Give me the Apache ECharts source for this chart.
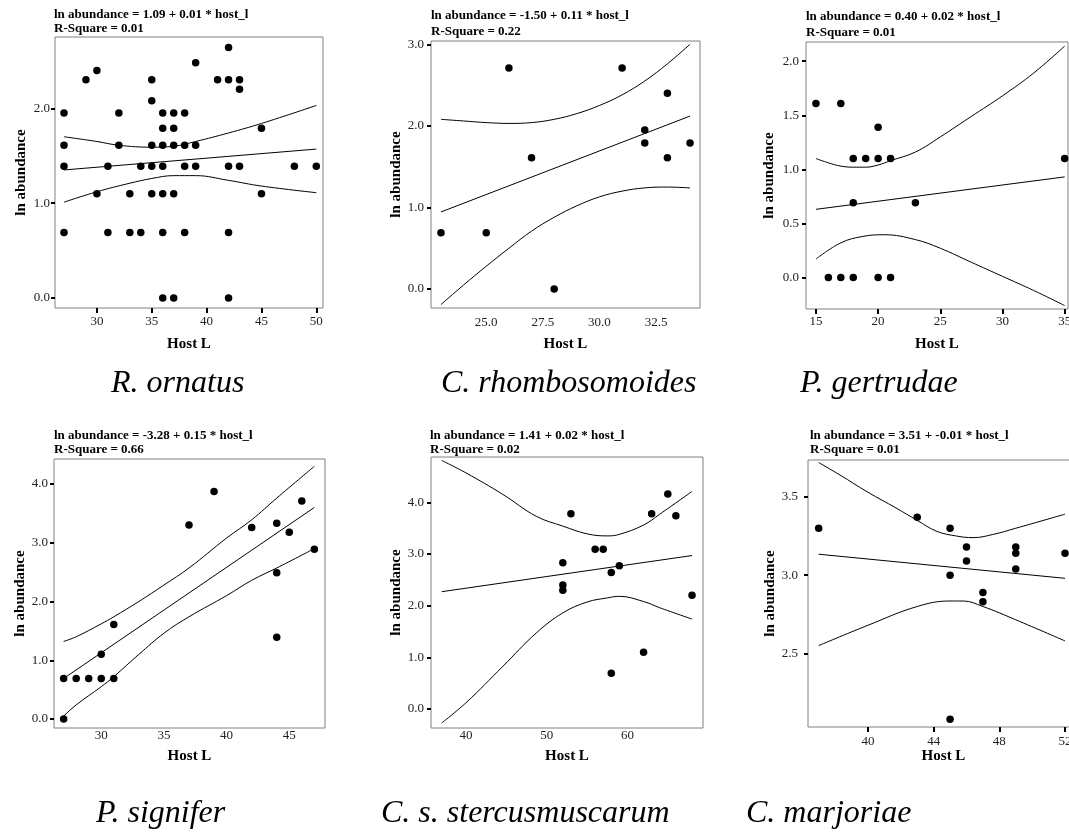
<!DOCTYPE html>
<html>
<head>
<meta charset="utf-8">
<script src="https://cdn.jsdelivr.net/npm/echarts@6/dist/echarts.min.js"></script>
<style>
html, body { margin: 0; background: #fff; }
#chart { width: 1069px; height: 832px; }
</style>
</head>
<body>
<div id="chart"></div>
<script>
// species names (panel captions)
const speciesNames = ['R. ornatus', 'C. rhombosomoides', 'P. gertrudae',
                      'P. signifer', 'C. s. stercusmuscarum', 'C. marjoriae'];
const equations = [
  'ln abundance = 1.09 + 0.01 * host_l\nR-Square = 0.01',
  'ln abundance = -1.50 + 0.11 * host_l\nR-Square = 0.22',
  'ln abundance = 0.40 + 0.02 * host_l\nR-Square = 0.01',
  'ln abundance = -3.28 + 0.15 * host_l\nR-Square = 0.66',
  'ln abundance = 1.41 + 0.02 * host_l\nR-Square = 0.02',
  'ln abundance = 3.51 + -0.01 * host_l\nR-Square = 0.01'
];

// R. ornatus
const ornatusHost = [27,27,27,27,29,30,30,31,31,32,32,33,33,34,34,35,35,35,35,35,36,36,36,36,36,36,36,37,37,37,37,37,38,38,38,38,39,39,39,41,42,42,42,42,42,43,43,43,45,45,48,50];
const ornatusAbund = [1.95,1.61,1.39,0.69,2.30,2.40,1.10,1.39,0.69,1.95,1.61,1.10,0.69,1.39,0.69,2.30,2.08,1.61,1.39,1.10,1.95,1.79,1.61,1.39,1.10,0.69,0,1.95,1.79,1.61,1.10,0,1.95,1.61,1.39,0.69,2.48,1.61,1.39,2.30,2.64,2.30,1.39,0.69,0,2.30,2.20,1.39,1.79,1.10,1.39,1.39];
const ornatusFit = [[27,1.35],[50,1.57]];
const ornatusUpper = [[27,1.70],[30,1.65],[32,1.61],[35,1.59],[37,1.60],[39,1.65],[42,1.74],[45,1.84],[50,2.03]];
const ornatusLower = [[27,1.01],[30,1.12],[33,1.21],[35,1.26],[37,1.29],[39,1.29],[42,1.24],[45,1.18],[50,1.11]];

// C. rhombosomoides
const rhomboHost = [23,25,26,27,28,31,32,32,33,33,34];
const rhomboAbund = [0.69,0.69,2.71,1.61,0,2.71,1.95,1.79,2.40,1.61,1.79];
const rhomboFit = [[23,0.945],[34,2.12]];
const rhomboUpper = [[23,2.08],[24,2.06],[25,2.04],[26,2.03],[27,2.04],[28,2.08],[29,2.15],[30,2.25],[31,2.38],[32,2.55],[33,2.76],[34,3.0]];
const rhomboLower = [[23,-0.19],[24,0.05],[25,0.28],[26,0.5],[27,0.71],[28,0.88],[29,1.02],[30,1.13],[31,1.2],[32,1.24],[33,1.25],[34,1.24]];

// P. gertrudae
const gertrudaeHost = [15,17,20,18,19,20,21,18,23,35,16,17,18,20,21];
const gertrudaeAbund = [1.61,1.61,1.39,1.10,1.10,1.10,1.10,0.69,0.69,1.10,0,0,0,0,0];
const gertrudaeFit = [[15,0.63],[35,0.93]];
const gertrudaeUpper = [[15,1.10],[16,1.06],[17,1.03],[18,1.02],[19,1.02],[20,1.04],[21,1.08],[23,1.16],[25,1.30],[27.5,1.49],[30,1.68],[32.5,1.89],[35,2.14]];
const gertrudaeLower = [[15,0.17],[17,0.32],[18.8,0.38],[20.5,0.395],[23,0.35],[25,0.27],[27.5,0.14],[30,0.01],[32.5,-0.12],[35,-0.26]];

// P. signifer
const signiferHost = [27,27,28,29,30,30,31,31,37,39,42,44,44,44,45,46,47];
const signiferAbund = [0.69,0,0.69,0.69,1.10,0.69,1.61,0.69,3.30,3.87,3.26,3.33,2.49,1.39,3.18,3.71,2.89];
const signiferFit = [[27,0.69],[47,3.60]];
const signiferUpper = [[27,1.32],[28,1.40],[30,1.62],[31,1.74],[33,2.0],[35,2.28],[37,2.57],[40,3.08],[42,3.39],[44,3.76],[47,4.30]];
const signiferLower = [[27,0.05],[28,0.24],[30,0.55],[31,0.72],[33,1.1],[35,1.46],[37,1.74],[40,2.1],[42,2.36],[44,2.57],[47,2.9]];

// C. s. stercusmuscarum
const stercusHost = [52,52,52,53,56,57,58,58,59,62,63,65,66,68];
const stercusAbund = [2.83,2.40,2.30,3.78,3.09,3.09,2.64,0.69,2.77,1.10,3.78,4.16,3.74,2.20];
const stercusFit = [[37,2.27],[68,2.97]];
const stercusUpper = [[37,4.81],[40,4.57],[44.6,4.15],[48.7,3.73],[52,3.54],[55,3.39],[57.5,3.35],[59,3.38],[62,3.56],[64,3.77],[68,4.21]];
const stercusLower = [[37,-0.27],[40,0.12],[44.6,0.83],[48.7,1.47],[52,1.86],[55,2.07],[57.5,2.15],[59,2.18],[62,2.08],[64,1.96],[68,1.74]];

// C. marjoriae
const marjoriaeHost = [37,43,45,45,45,46,46,47,47,49,49,49,52];
const marjoriaeAbund = [3.30,3.37,3.30,3.00,2.08,3.18,3.09,2.89,2.83,3.18,3.14,3.04,3.14];
const marjoriaeFit = [[37,3.134],[52,2.98]];
const marjoriaeUpper = [[37,3.72],[38.3,3.64],[40,3.53],[41.7,3.43],[43,3.35],[44.2,3.28],[45.4,3.25],[46.4,3.24],[47.6,3.26],[49,3.30],[52,3.39]];
const marjoriaeLower = [[37,2.55],[40,2.68],[43,2.80],[45,2.835],[45.8,2.835],[47,2.80],[49,2.715],[52,2.58]];

// tick values
const ornatusXTicks = [30,35,40,45,50],    ornatusYTicks = [0,1,2];
const rhomboXTicks = [25,27.5,30,32.5],    rhomboYTicks = [0,1,2,3];
const gertrudaeXTicks = [15,20,25,30,35],  gertrudaeYTicks = [0,0.5,1,1.5,2];
const signiferXTicks = [30,35,40,45],      signiferYTicks = [0,1,2,3,4];
const stercusXTicks = [40,50,60],          stercusYTicks = [0,1,2,3,4];
const marjoriaeXTicks = [40,44,48,52],     marjoriaeYTicks = [2.5,3,3.5];

const panels = [
  {host: ornatusHost, abund: ornatusAbund, fit: ornatusFit, up: ornatusUpper, lo: ornatusLower, xt: ornatusXTicks, yt: ornatusYTicks},
  {host: rhomboHost, abund: rhomboAbund, fit: rhomboFit, up: rhomboUpper, lo: rhomboLower, xt: rhomboXTicks, yt: rhomboYTicks},
  {host: gertrudaeHost, abund: gertrudaeAbund, fit: gertrudaeFit, up: gertrudaeUpper, lo: gertrudaeLower, xt: gertrudaeXTicks, yt: gertrudaeYTicks},
  {host: signiferHost, abund: signiferAbund, fit: signiferFit, up: signiferUpper, lo: signiferLower, xt: signiferXTicks, yt: signiferYTicks},
  {host: stercusHost, abund: stercusAbund, fit: stercusFit, up: stercusUpper, lo: stercusLower, xt: stercusXTicks, yt: stercusYTicks},
  {host: marjoriaeHost, abund: marjoriaeAbund, fit: marjoriaeFit, up: marjoriaeUpper, lo: marjoriaeLower, xt: marjoriaeXTicks, yt: marjoriaeYTicks}
];

// layout of each panel (pixels) and visible axis ranges
const layout = [
  {grid: {left: 55, top: 37, width: 268, height: 271}, x: [26.18, 50.61], y: [-0.106, 2.752], xTick: true, xFix: 0, xMargin: 7, yMargin: 5, yGap: 26, xGap: 29, title: [54, 7, 14.3], caption: [111, 368]},
  {grid: {left: 431, top: 41, width: 269, height: 267}, x: [22.56, 34.44], y: [-0.232, 3.04], xTick: false, xFix: 1, xMargin: 8, yMargin: 7, yGap: 22, xGap: 29, title: [431, 7, 16.5], caption: [441, 368]},
  {grid: {left: 806, top: 42, width: 262, height: 267}, x: [14.2, 35.27], y: [-0.292, 2.178], xTick: true, xFix: 0, xMargin: 6, yMargin: 7, yGap: 29, xGap: 28, title: [806, 8, 16.5], caption: [800, 368]},
  {grid: {left: 54, top: 459, width: 271, height: 269}, x: [26.23, 47.85], y: [-0.153, 4.425], xTick: false, xFix: 0, xMargin: 1, yMargin: 6, yGap: 24, xGap: 21, title: [54, 428, 14.3], caption: [96, 798]},
  {grid: {left: 431, top: 457, width: 272, height: 271}, x: [35.67, 69.36], y: [-0.368, 4.877], xTick: false, xFix: 0, xMargin: 1, yMargin: 7, yGap: 22, xGap: 21, title: [430, 428, 14.3], caption: [381, 798]},
  {grid: {left: 808, top: 460, width: 271, height: 267}, x: [36.35, 52.85], y: [2.03, 3.736], xTick: true, xFix: 0, xMargin: 8, yMargin: 10, yGap: 27, xGap: 22, title: [810, 428, 14.3], caption: [746, 798]}
];

const serif = 'Liberation Serif, Times New Roman, serif';
const grids = [], xAxes = [], yAxes = [], series = [], titles = [];

panels.forEach((p, i) => {
  const L = layout[i];
  grids.push(Object.assign({show: true, borderColor: '#808080', borderWidth: 1,
    backgroundColor: 'transparent', containLabel: false, outerBoundsMode: 'none'}, L.grid));
  xAxes.push({
    gridIndex: i, type: 'value', min: L.x[0], max: L.x[1],
    axisLine: {show: false, onZero: false}, splitLine: {show: false},
    axisTick: {show: L.xTick, customValues: p.xt, length: 5, lineStyle: {color: '#000', width: 2}},
    axisLabel: {customValues: p.xt, margin: L.xMargin, fontFamily: serif, fontSize: 13, color: '#222',
      formatter: v => v.toFixed(L.xFix)},
    name: 'Host L', nameLocation: 'middle', nameGap: L.xGap,
    nameTextStyle: {fontFamily: serif, fontWeight: 'bold', fontSize: 15, color: '#000'}
  });
  yAxes.push({
    gridIndex: i, type: 'value', min: L.y[0], max: L.y[1],
    axisLine: {show: false, onZero: false}, splitLine: {show: false},
    axisTick: {show: true, customValues: p.yt, length: 4, lineStyle: {color: '#000', width: 2}},
    axisLabel: {customValues: p.yt, margin: L.yMargin, fontFamily: serif, fontSize: 13, color: '#222',
      formatter: v => v.toFixed(1)},
    name: 'ln abundance', nameLocation: 'middle', nameGap: L.yGap,
    nameTextStyle: {fontFamily: serif, fontWeight: 'bold', fontSize: 15, color: '#000'}
  });
  series.push({
    type: 'scatter', xAxisIndex: i, yAxisIndex: i, symbolSize: 7.5,
    itemStyle: {color: '#000', opacity: 1}, data: p.host.map((h, k) => [h, p.abund[k]])
  });
  const line = (d, smooth) => ({
    type: 'line', xAxisIndex: i, yAxisIndex: i, data: d, smooth: smooth, showSymbol: false,
    lineStyle: {color: '#000', width: 1}, silent: true
  });
  series.push(line(p.fit, false), line(p.up, 0.4), line(p.lo, 0.4));

  titles.push({
    text: equations[i], left: L.title[0], top: L.title[1], padding: 0,
    textStyle: {fontFamily: serif, fontWeight: 'bold', fontSize: 13, lineHeight: L.title[2], color: '#000'}
  });
  titles.push({
    text: speciesNames[i], left: L.caption[0], top: L.caption[1], padding: 0,
    textStyle: {fontFamily: serif, fontStyle: 'italic', fontWeight: 'normal', fontSize: 32, color: '#000'}
  });
});

const chart = echarts.init(document.getElementById('chart'), null, {renderer: 'canvas'});
chart.setOption({
  animation: false,
  backgroundColor: '#fff',
  title: titles,
  grid: grids,
  xAxis: xAxes,
  yAxis: yAxes,
  series: series
});
</script>
</body>
</html>
